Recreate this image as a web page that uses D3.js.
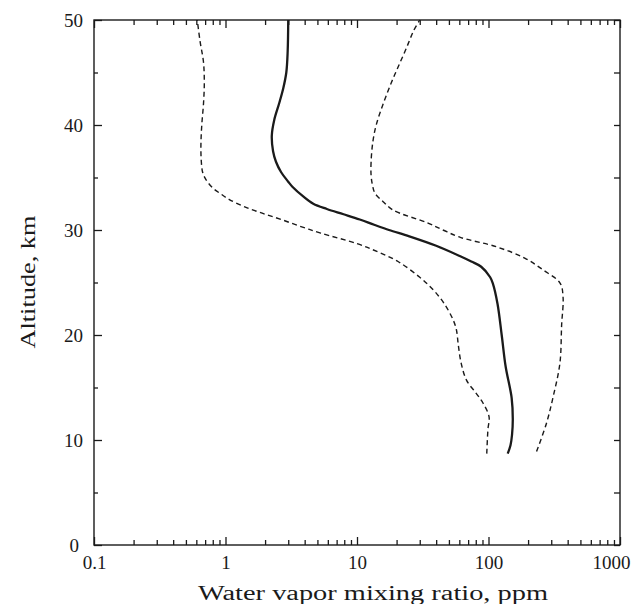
<!DOCTYPE html>
<html>
<head>
<meta charset="utf-8">
<script src="https://cdn.jsdelivr.net/npm/d3@7"></script>
<style>
  html, body { margin: 0; padding: 0; background: #fff; overflow: hidden; }
  svg { display: block; }
  text { font-family: "Liberation Serif", "Times New Roman", serif; fill: #1a1a1a; }
</style>
</head>
<body>
<svg id="chart" width="631" height="604"></svg>
<script>
// ---- Data ----
const xTickValues = [0.1, 1, 10, 100, 1000];
const xTickLabels = ["0.1", "1", "10", "100", "1000"];
const yTickValues = [0, 10, 20, 30, 40, 50];
const yTickLabels = ["0", "10", "20", "30", "40", "50"];

// Mean profile (solid)
const meanAltitude = [8.7, 9.5, 10.5, 12, 14, 17, 20, 23, 24.9, 25.5, 26.5, 27, 27.5, 28.5, 29.4, 30, 30.5, 31, 31.5, 32, 32.5, 33.2, 34.1, 34.6, 35.5, 36.5, 37.5, 39, 40.5, 42, 43.5, 45, 47, 50];
const meanValue    = [140, 147, 151, 153, 150, 135, 126, 117, 108, 103, 88, 74, 61, 40, 25, 17.5, 13.5, 10.5, 7.9, 5.9, 4.65, 3.9, 3.24, 3.0, 2.65, 2.42, 2.3, 2.25, 2.35, 2.55, 2.75, 2.9, 2.97, 3.0];

// Lower bound profile (dashed, left)
const lowAltitude = [8.7, 11, 12.2, 13.5, 14.5, 15.7, 17.3, 19, 20.5, 21.4, 23, 24.3, 25.5, 27, 27.9, 28.7, 29.7, 30.3, 31, 31.6, 32.2, 32.9, 33.4, 34, 34.8, 35.5, 36.5, 38, 40, 42, 44, 46, 48, 50];
const lowValue    = [97, 99, 101, 91, 80, 68, 62, 59, 57, 54, 46, 38, 30, 20.5, 14.5, 10, 5.3, 3.8, 2.65, 1.9, 1.4, 1.07, 0.93, 0.8, 0.71, 0.67, 0.655, 0.65, 0.66, 0.68, 0.69, 0.68, 0.64, 0.61];

// Upper bound profile (dashed, right)
const highAltitude = [8.9, 11.6, 14.1, 17.3, 21, 23.6, 24.95, 26.2, 27.3, 28.4, 29.3, 30, 30.7, 31.9, 32.7, 33.5, 34.3, 35.2, 36.5, 38.4, 40, 42, 44, 45.5, 47.3, 49, 50];
const highValue    = [232, 276, 310, 349, 360, 369, 350, 260, 190, 115, 61, 45, 34, 18.8, 15.8, 13.7, 13.1, 12.8, 12.8, 13.2, 14, 15.8, 18.2, 20.5, 23.7, 27, 30];

const xTitle = "Water vapor mixing ratio, ppm";
const yTitle = "Altitude, km";

(function () {
// ---- Layout ----
const svg = d3.select("#chart");
const plotLeft = 94, plotRight = 620, plotTop = 20, plotBottom = 545;

const x = d3.scaleLog().domain([0.1, 1000]).range([plotLeft, plotRight]);
const y = d3.scaleLinear().domain([0, 50]).range([plotBottom, plotTop]);

const ink = "#1a1a1a";

// Minor log tick values (2..9 of each decade)
const minorX = [];
for (let e = -1; e < 3; e++) {
  for (let m = 2; m <= 9; m++) minorX.push(m * Math.pow(10, e));
}
const minorY = [5, 15, 25, 35, 45];

function styleAxis(g) {
  g.select(".domain").remove();
  g.selectAll(".tick line").attr("stroke", ink).attr("stroke-width", 1.3);
  g.selectAll(".tick text").attr("font-size", 19).attr("fill", ink)
    .attr("font-family", "'Liberation Serif', 'Times New Roman', serif");
  return g;
}

// Bottom axis: labelled majors, ticks inward
svg.append("g").attr("transform", `translate(0,${plotBottom})`)
  .call(d3.axisBottom(x).tickValues(xTickValues).tickSize(-8).tickPadding(17)
    .tickFormat((d, i) => xTickLabels[i]))
  .call(styleAxis)
  .call(g => g.selectAll(".tick text").attr("dy", "0.35em"))
  .call(g => g.selectAll(".tick").filter(d => d === 1000).select("text")
    .attr("text-anchor", "end").attr("x", 10));
svg.append("g").attr("transform", `translate(0,${plotBottom})`)
  .call(d3.axisBottom(x).tickValues(minorX).tickSize(-5).tickFormat(""))
  .call(styleAxis);

// Top axis: ticks inward
svg.append("g").attr("transform", `translate(0,${plotTop})`)
  .call(d3.axisTop(x).tickValues(xTickValues).tickSize(-8).tickFormat(""))
  .call(styleAxis);
svg.append("g").attr("transform", `translate(0,${plotTop})`)
  .call(d3.axisTop(x).tickValues(minorX).tickSize(-5).tickFormat(""))
  .call(styleAxis);

// Left axis: labelled majors, ticks inward
svg.append("g").attr("transform", `translate(${plotLeft},0)`)
  .call(d3.axisLeft(y).tickValues(yTickValues).tickSize(-8).tickPadding(11)
    .tickFormat((d, i) => yTickLabels[i]))
  .call(styleAxis)
  .call(g => g.selectAll(".tick").filter(d => d === 0).select("text").attr("x", -15));
svg.append("g").attr("transform", `translate(${plotLeft},0)`)
  .call(d3.axisLeft(y).tickValues(minorY).tickSize(-4).tickFormat(""))
  .call(styleAxis);

// Right axis: ticks inward
svg.append("g").attr("transform", `translate(${plotRight},0)`)
  .call(d3.axisRight(y).tickValues(yTickValues.concat(minorY)).tickSize(-6).tickFormat(""))
  .call(styleAxis);

// Frame
svg.append("rect")
  .attr("x", plotLeft).attr("y", plotTop)
  .attr("width", plotRight - plotLeft).attr("height", plotBottom - plotTop)
  .attr("fill", "none").attr("stroke", ink).attr("stroke-width", 1.4);

// Axis titles
svg.append("text")
  .attr("x", 373).attr("y", 600)
  .attr("text-anchor", "middle")
  .attr("font-size", 20)
  .attr("textLength", 350)
  .attr("lengthAdjust", "spacingAndGlyphs")
  .text(xTitle);

svg.append("text")
  .attr("transform", "translate(35,282) rotate(-90)")
  .attr("text-anchor", "middle")
  .attr("font-size", 20)
  .attr("textLength", 133)
  .attr("lengthAdjust", "spacingAndGlyphs")
  .text(yTitle);

// Profiles
const lineGen = d3.line()
  .x(d => x(d.v))
  .y(d => y(d.a))
  .curve(d3.curveCatmullRom.alpha(0.5));

function series(alts, vals) {
  return alts.map((a, i) => ({ a, v: vals[i] }));
}

svg.append("path")
  .datum(series(lowAltitude, lowValue))
  .attr("d", lineGen)
  .attr("fill", "none").attr("stroke", ink)
  .attr("stroke-width", 1.4).attr("stroke-dasharray", "5,3.5");

svg.append("path")
  .datum(series(highAltitude, highValue))
  .attr("d", lineGen)
  .attr("fill", "none").attr("stroke", ink)
  .attr("stroke-width", 1.4).attr("stroke-dasharray", "5,3.5");

svg.append("path")
  .datum(series(meanAltitude, meanValue))
  .attr("d", lineGen)
  .attr("fill", "none").attr("stroke", ink)
  .attr("stroke-width", 2.3);
})();
</script>
</body>
</html>
